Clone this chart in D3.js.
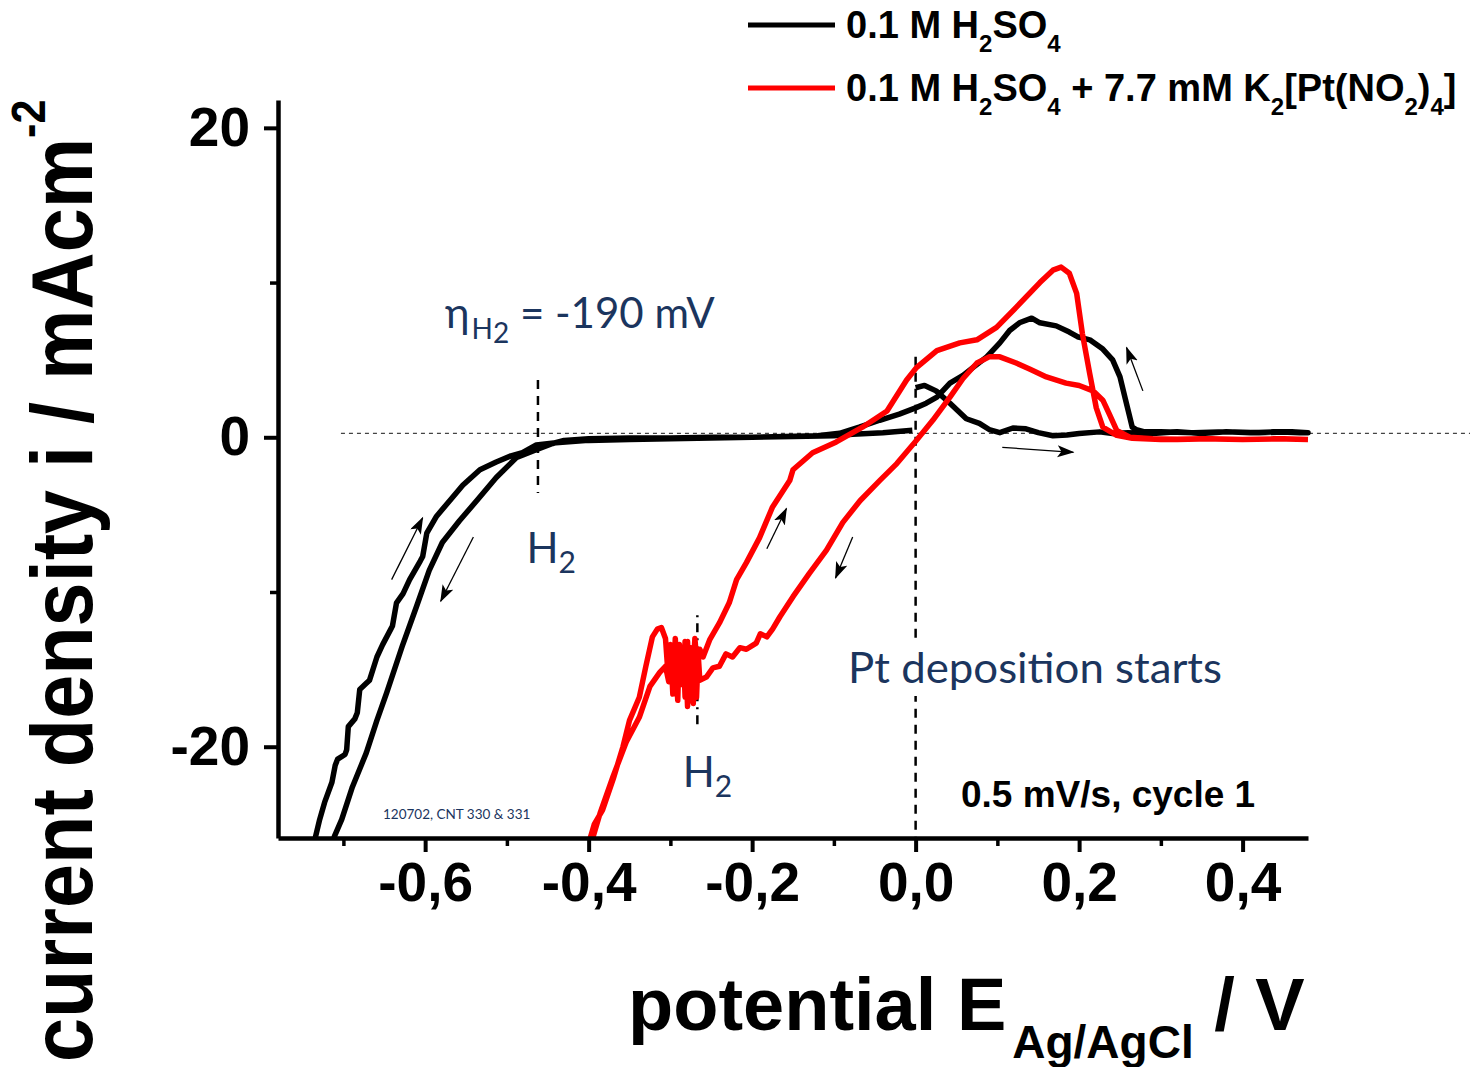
<!DOCTYPE html>
<html>
<head>
<meta charset="utf-8">
<script src="https://cdnjs.cloudflare.com/ajax/libs/d3/7.8.5/d3.min.js"></script>
<style>
  body { margin: 0; background: #fff; }
  svg { display: block; }
</style>
</head>
<body>
<svg id="chart" width="1470" height="1067"></svg>
<script>
// cyclic voltammograms, [potential V, current density mA/cm2], in scan order
const blackScan = [
  [0.000, 3.2], [0.011, 3.35], [0.025, 3.0], [0.042, 2.2], [0.062, 1.2], [0.078, 0.9], [0.090, 0.5],
  [0.103, 0.3], [0.119, 0.6], [0.135, 0.55], [0.150, 0.3], [0.168, 0.1], [0.185, 0.15], [0.200, 0.25],
  [0.225, 0.35], [0.241, 0.25], [0.26, 0.3], [0.29, 0.25], [0.32, 0.35], [0.35, 0.25], [0.38, 0.35],
  [0.41, 0.3], [0.44, 0.35], [0.47, 0.3], [0.48, 0.3],
  [0.46, 0.35], [0.42, 0.3], [0.38, 0.35], [0.34, 0.3], [0.30, 0.35], [0.28, 0.35], [0.270, 0.5],
  [0.265, 0.65], [0.262, 1.3], [0.256, 2.6], [0.250, 3.9], [0.241, 5.0], [0.229, 5.7], [0.213, 6.3],
  [0.198, 6.5], [0.188, 6.8], [0.172, 7.2], [0.152, 7.4], [0.142, 7.7], [0.127, 7.4], [0.115, 6.9],
  [0.103, 6.1], [0.087, 5.2], [0.070, 4.5], [0.058, 4.0], [0.042, 3.5], [0.026, 2.6], [0.013, 2.2],
  [0.000, 1.9], [-0.020, 1.5], [-0.044, 1.1], [-0.069, 0.65], [-0.093, 0.26], [-0.12, 0.1], [-0.16, 0.05],
  [-0.20, 0.0], [-0.25, 0.0], [-0.30, -0.05], [-0.35, -0.05], [-0.40, -0.1], [-0.43, -0.2], [-0.444, -0.4],
  [-0.464, -0.8], [-0.488, -1.3], [-0.513, -2.6], [-0.537, -4.1], [-0.558, -5.4], [-0.579, -6.8],
  [-0.595, -8.6], [-0.611, -11.0], [-0.628, -13.5], [-0.647, -16.5], [-0.659, -18.3], [-0.672, -20.4],
  [-0.689, -22.6], [-0.702, -24.7], [-0.711, -25.8], [-0.725, -28.5], [-0.74, -30],
  [-0.75, -29], [-0.736, -26.5], [-0.734, -25.8], [-0.729, -24.7], [-0.723, -23.6], [-0.714, -22.3],
  [-0.710, -21.2], [-0.707, -20.8], [-0.698, -20.5], [-0.696, -20.2], [-0.694, -18.7], [-0.686, -18.2],
  [-0.683, -17.8], [-0.680, -16.3], [-0.672, -15.9], [-0.668, -15.7], [-0.659, -14.2], [-0.652, -13.4],
  [-0.642, -12.4], [-0.640, -12.2], [-0.635, -10.7], [-0.627, -10.1], [-0.619, -9.2], [-0.606, -8.0],
  [-0.603, -7.7], [-0.598, -6.2], [-0.586, -5.1], [-0.570, -4.1], [-0.554, -3.1], [-0.533, -2.1],
  [-0.513, -1.6], [-0.495, -1.2], [-0.481, -1.0], [-0.464, -0.5], [-0.44, -0.35], [-0.40, -0.2],
  [-0.35, -0.15], [-0.30, -0.1], [-0.25, -0.05], [-0.20, 0.0], [-0.15, 0.05], [-0.10, 0.1],
  [-0.077, 0.2], [-0.04, 0.3], [-0.004, 0.45]
];

const redScan = [
  [0.48, -0.15], [0.44, -0.1], [0.40, -0.15], [0.36, -0.1], [0.32, -0.15], [0.29, -0.1], [0.262, 0.0],
  [0.246, 0.45], [0.237, 1.5], [0.229, 2.4], [0.217, 3.0], [0.200, 3.35], [0.184, 3.5], [0.160, 3.9],
  [0.140, 4.4], [0.123, 4.8], [0.103, 5.2], [0.090, 5.2], [0.075, 4.8], [0.058, 3.8], [0.042, 2.6],
  [0.021, 1.1], [0.001, -0.2], [-0.023, -1.7], [-0.044, -2.8], [-0.068, -4.1], [-0.089, -5.5],
  [-0.109, -7.3], [-0.130, -8.8], [-0.150, -10.3], [-0.166, -11.6], [-0.175, -12.4], [-0.182, -12.9],
  [-0.190, -12.7], [-0.195, -13.3], [-0.207, -13.7], [-0.215, -13.6], [-0.224, -14.2], [-0.232, -14.0],
  [-0.240, -14.8], [-0.248, -14.9], [-0.256, -15.5], [-0.264, -15.7],
  [-0.266, -14.0], [-0.268, -16.8], [-0.270, -14.6], [-0.272, -17.2], [-0.275, -13.6], [-0.277, -16.2],
  [-0.279, -13.2], [-0.282, -16.8], [-0.284, -14.0], [-0.287, -15.6], [-0.289, -13.4], [-0.291, -17.0],
  [-0.294, -14.2], [-0.296, -16.2], [-0.299, -14.6], [-0.302, -15.8], [-0.306, -14.8], [-0.313, -15.2],
  [-0.325, -16.1], [-0.338, -18.1], [-0.354, -19.7], [-0.370, -21.9], [-0.386, -24.3], [-0.395, -25.9],
  [-0.405, -28.5],
  [-0.41, -28.5], [-0.398, -25.9], [-0.393, -25.0], [-0.383, -24.1], [-0.370, -22.1], [-0.358, -20.0],
  [-0.350, -18.3], [-0.338, -16.8], [-0.330, -14.8], [-0.322, -12.9], [-0.316, -12.4], [-0.311, -12.3],
  [-0.306, -13.0], [-0.303, -15.2], [-0.300, -13.4], [-0.297, -16.6], [-0.294, -13.0], [-0.291, -15.4],
  [-0.288, -13.6], [-0.285, -16.0], [-0.282, -13.2], [-0.279, -17.4], [-0.276, -13.8], [-0.273, -15.8],
  [-0.270, -13.0], [-0.267, -15.0], [-0.264, -13.7], [-0.260, -14.2], [-0.252, -13.1], [-0.240, -12.0],
  [-0.228, -10.7], [-0.219, -9.2], [-0.207, -8.1], [-0.191, -6.5], [-0.175, -4.5], [-0.154, -2.8],
  [-0.150, -2.1], [-0.126, -1.0], [-0.097, -0.3], [-0.065, 0.65], [-0.035, 1.7], [-0.011, 3.7],
  [0.001, 4.5], [0.026, 5.6], [0.054, 6.1], [0.075, 6.3], [0.099, 7.1], [0.123, 8.4], [0.152, 10.0],
  [0.168, 10.8], [0.178, 11.0], [0.188, 10.6], [0.197, 9.3], [0.204, 6.7], [0.213, 4.1], [0.221, 1.9],
  [0.229, 0.65], [0.246, 0.13], [0.265, -0.06], [0.30, -0.15], [0.35, -0.1], [0.40, -0.15],
  [0.45, -0.1], [0.48, -0.15]
];

const xMajorTicks = [-0.6, -0.4, -0.2, 0.0, 0.2, 0.4];
const xMinorTicks = [-0.7, -0.5, -0.3, -0.1, 0.1, 0.3];
const yMajorTicks = [-20, 0, 20];
const yMinorTicks = [-10, 10];

// reference lines: [E1, i1, E2, i2]
const baseLine = [-0.703, 0.25, 0.68, 0.25];
const markerLines = [
  [-0.462, 3.7, -0.462, -3.6],
  [0.0, 5.2, 0.0, -26]
];
const h2RedLine = [-0.267, -11.5, -0.267, -18.8];

// scan direction arrows: [E1, i1, E2, i2]
const arrows = [
  [-0.641, -9.2, -0.603, -5.2],
  [-0.541, -6.45, -0.581, -10.6],
  [-0.182, -7.2, -0.158, -4.6],
  [-0.077, -6.45, -0.098, -9.1],
  [0.106, -0.65, 0.193, -0.97],
  [0.278, 3.0, 0.258, 5.8]
];

const svg = d3.select("#chart");
const plotLeft = 278, plotRight = 1308, plotTop = 100, plotBottom = 838;

const x = d3.scaleLinear().domain([-0.78, 0.48]).range([plotLeft, plotRight]);
const y = d3.scaleLinear().domain([-25.9, 21.8]).range([plotBottom, plotTop]);

const boldFont = "'Liberation Sans', Arial, sans-serif";
const noteFont = "Lato, 'Open Sans', sans-serif";
const navy = "#1b355e";

const defs = svg.append("defs");
defs.append("clipPath").attr("id", "plotClip")
  .append("rect").attr("x", plotLeft).attr("y", 0)
  .attr("width", plotRight - plotLeft + 10).attr("height", plotBottom - 1);

defs.append("marker")
  .attr("id", "head")
  .attr("markerUnits", "userSpaceOnUse")
  .attr("markerWidth", 20).attr("markerHeight", 14)
  .attr("refX", 16).attr("refY", 6)
  .attr("orient", "auto")
  .append("path").attr("d", "M0,0 L17,6 L0,12 L4,6 Z").attr("fill", "#000");

// dotted zero line
svg.append("line")
  .attr("x1", x(baseLine[0])).attr("y1", y(baseLine[1]))
  .attr("x2", 1470).attr("y2", y(baseLine[3]))
  .attr("stroke", "#444").attr("stroke-width", 1.2).attr("stroke-dasharray", "4,4");

// dashed markers
svg.selectAll("line.marker").data(markerLines).enter().append("line")
  .attr("class", "marker")
  .attr("x1", d => x(d[0])).attr("y1", d => y(d[1]))
  .attr("x2", d => x(d[2])).attr("y2", d => Math.min(y(d[3]), plotBottom))
  .attr("stroke", "#000").attr("stroke-width", 2.5).attr("stroke-dasharray", "9,7");

svg.append("line")
  .attr("x1", x(h2RedLine[0])).attr("y1", y(h2RedLine[1]))
  .attr("x2", x(h2RedLine[2])).attr("y2", y(h2RedLine[3]))
  .attr("stroke", "#000").attr("stroke-width", 2.5).attr("stroke-dasharray", "2,6,9,6");

// curves
const line = d3.line().x(d => x(d[0])).y(d => y(d[1]));
const curves = svg.append("g").attr("clip-path", "url(#plotClip)");
curves.append("path").datum(blackScan)
  .attr("d", line).attr("fill", "none").attr("stroke", "#000")
  .attr("stroke-width", 5.5).attr("stroke-linejoin", "round");
curves.append("path").datum(redScan)
  .attr("d", line).attr("fill", "none").attr("stroke", "#ff0000")
  .attr("stroke-width", 5.5).attr("stroke-linejoin", "round");

// arrows
svg.selectAll("line.arrow").data(arrows).enter().append("line")
  .attr("class", "arrow")
  .attr("x1", d => x(d[0])).attr("y1", d => y(d[1]))
  .attr("x2", d => x(d[2])).attr("y2", d => y(d[3]))
  .attr("stroke", "#000").attr("stroke-width", 1.3)
  .attr("marker-end", "url(#head)");

// axes
const xAxis = svg.append("g").attr("transform", `translate(0,${plotBottom})`)
  .call(d3.axisBottom(x).tickValues(xMajorTicks).tickSize(14).tickSizeOuter(0).tickPadding(10)
    .tickFormat(d => d3.format(".1f")(d).replace(".", ",").replace("−", "-")));
svg.append("g").attr("transform", `translate(0,${plotBottom})`)
  .call(d3.axisBottom(x).tickValues(xMinorTicks).tickSize(8).tickSizeOuter(0).tickFormat(""))
  .call(g => g.select(".domain").remove())
  .selectAll("line").attr("stroke-width", 3.5);

const yAxis = svg.append("g").attr("transform", `translate(${plotLeft},0)`)
  .call(d3.axisLeft(y).tickValues(yMajorTicks).tickSize(14).tickSizeOuter(0).tickPadding(14)
    .tickFormat(d => d3.format("d")(d).replace("−", "-")));
svg.append("g").attr("transform", `translate(${plotLeft},0)`)
  .call(d3.axisLeft(y).tickValues(yMinorTicks).tickSize(8).tickSizeOuter(0).tickFormat(""))
  .call(g => g.select(".domain").remove())
  .selectAll("line").attr("stroke-width", 3.5);

[xAxis, yAxis].forEach(g => {
  g.select(".domain").attr("stroke-width", 4.5);
  g.selectAll(".tick line").attr("stroke-width", 4);
  g.selectAll(".tick text")
    .attr("font-family", boldFont).attr("font-weight", "bold")
    .attr("font-size", 55).attr("fill", "#000");
});

// axis titles
const xt = svg.append("text").attr("x", 628).attr("y", 1030)
  .attr("font-family", boldFont).attr("font-weight", "bold").attr("font-size", 74).attr("fill", "#000");
xt.append("tspan").text("potential E");
xt.append("tspan").attr("font-size", 46).attr("dx", 6).attr("dy", 28).text("Ag/AgCl");
xt.append("tspan").attr("font-size", 74).attr("dy", -28).text(" / V");

const yt = svg.append("text")
  .attr("transform", "translate(92,1062) rotate(-90) scale(0.9,1)")
  .attr("font-family", boldFont).attr("font-weight", "bold").attr("font-size", 88).attr("fill", "#000");
yt.append("tspan").text("current density i / mAcm");
yt.append("tspan").attr("font-size", 48).attr("dy", -47).text("-2");

// legend
const legendItems = [
  { color: "#000", y: 25, parts: [["0.1 M H"], ["2", 1], ["SO"], ["4", 1]] },
  { color: "#ff0000", y: 88, parts: [["0.1 M H"], ["2", 1], ["SO"], ["4", 1], [" + 7.7 mM K"], ["2", 1],
    ["[Pt(NO"], ["2", 1], [")"], ["4", 1], ["]"]] }
];
legendItems.forEach(item => {
  svg.append("line").attr("x1", 748).attr("x2", 835).attr("y1", item.y).attr("y2", item.y)
    .attr("stroke", item.color).attr("stroke-width", 5);
  const t = svg.append("text").attr("x", 846).attr("y", item.y + 13)
    .attr("font-family", boldFont).attr("font-weight", "bold").attr("font-size", 38).attr("fill", "#000");
  let sub = false;
  item.parts.forEach(p => {
    const isSub = p[1] === 1;
    const ts = t.append("tspan").text(p[0]);
    if (isSub && !sub) ts.attr("dy", 14);
    if (!isSub && sub) ts.attr("dy", -14);
    if (isSub) ts.attr("font-size", 24);
    sub = isSub;
  });
});

// notes
const eta = svg.append("text").attr("x", 445).attr("y", 328)
  .attr("font-family", noteFont).attr("font-size", 42).attr("fill", navy);
eta.append("tspan").text("η");
eta.append("tspan").attr("font-size", 28).attr("dy", 11).attr("dx", 2).text("H");
eta.append("tspan").attr("font-size", 28).attr("dy", 4).text("2");
eta.append("tspan").attr("dy", -15).text(" = -190 mV");

function h2Label(px, py) {
  const t = svg.append("text").attr("x", px).attr("y", py)
    .attr("font-family", noteFont).attr("font-size", 42).attr("fill", navy);
  t.append("tspan").text("H");
  t.append("tspan").attr("font-size", 30).attr("dy", 10).text("2");
}
h2Label(x(-0.476), y(-8.1));
h2Label(x(-0.285), y(-22.6));

const ptText = svg.append("text").attr("x", 848).attr("y", 683)
  .attr("font-family", noteFont).attr("font-size", 42).attr("fill", navy)
  .attr("textLength", 374).attr("lengthAdjust", "spacingAndGlyphs")
  .text("Pt deposition starts");
const bb = ptText.node().getBBox();
svg.insert("rect", () => ptText.node())
  .attr("x", x(0) - 6).attr("y", bb.y - 2).attr("width", 12).attr("height", bb.height + 6)
  .attr("fill", "#fff");

svg.append("text").attr("x", 961).attr("y", 807)
  .attr("font-family", boldFont).attr("font-weight", "bold").attr("font-size", 37).attr("fill", "#000")
  .text("0.5 mV/s, cycle 1");

svg.append("text").attr("x", 383).attr("y", 819)
  .attr("font-family", noteFont).attr("font-size", 13.5).attr("fill", navy)
  .text("120702, CNT 330 & 331");
</script>
</body>
</html>
